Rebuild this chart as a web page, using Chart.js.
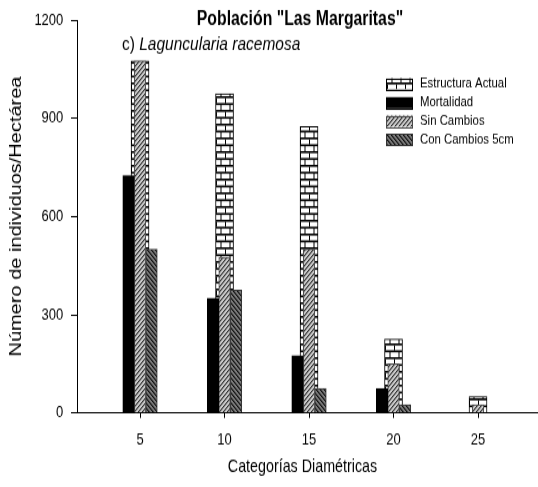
<!DOCTYPE html>
<html>
<head>
<meta charset="utf-8">
<script src="https://cdn.jsdelivr.net/npm/chart.js@4.4.1/dist/chart.umd.min.js"></script>
<style>
  html, body { margin: 0; padding: 0; background: #fff; overflow: hidden; }
  #wrap { width: 538px; height: 487px; overflow: hidden; position: relative; background: #fff; }
  /* the figure is drawn on a shorter canvas and stretched vertically */
  #c { display: block; width: 538px; height: 390px; transform-origin: 0 0; transform: scaleY(1.248718); }
</style>
</head>
<body>
<div id="wrap"><canvas id="c" width="538" height="390"></canvas></div>
<script>
// Diameter classes (cm) and densities (individuals per hectare)
const categories = [5, 10, 15, 20, 25];
const estructuraActual = [1075, 975, 875, 225, 50];
const mortalidad = [725, 350, 175, 75, 0];
const sinCambios = [1075, 475, 500, 150, 25];
const conCambios5cm = [500, 375, 75, 25, 0];
const yTicks = [0, 300, 600, 900, 1200];
const seriesNames = ['Estructura Actual', 'Mortalidad', 'Sin Cambios', 'Con Cambios 5cm'];
const chartTitle = 'Población "Las Margaritas"';
const panelLabel = 'c) ';
const speciesName = 'Laguncularia racemosa';
const xTitle = 'Categorías Diamétricas';
const yTitle = 'Número de individuos/Hectárea';

const FF = "'Liberation Sans', Arial, Helvetica, sans-serif";
const canvas = document.getElementById('c');
const mainCtx = canvas.getContext('2d');

// ---- fill patterns ----
function makeTile(w, h, paint) {
  const t = document.createElement('canvas');
  t.width = w; t.height = h;
  paint(t.getContext('2d'), w, h);
  return t;
}
const brickTile = makeTile(9, 11, (g, w, h) => {
  g.fillStyle = '#fff'; g.fillRect(0, 0, w, h);
  g.fillStyle = '#000';
  g.fillRect(0, 0, w, 1.6);
  g.fillRect(0, 5.5, w, 1.6);
  g.fillRect(0, 1.5, 1, 4.2);
  g.fillRect(4.5, 7, 1, 4.2);
});
function hatchTile(bg, mid, dark, forward) {
  return makeTile(4, 4, (g) => {
    for (let y = 0; y < 4; y++) {
      for (let x = 0; x < 4; x++) {
        const k = forward ? (x + y) % 4 : ((x - y) % 4 + 4) % 4;
        g.fillStyle = k === 3 ? dark : (k === 0 ? mid : bg);
        g.fillRect(x, y, 1, 1);
      }
    }
  });
}
const sinTile = hatchTile('#cacaca', '#8a8a8a', '#333', true);
const conTile = hatchTile('#7a7a7a', '#444', '#111', false);

// pattern anchored on each bar's category centre
function barPattern(tile) {
  return (ctx) => {
    const p = mainCtx.createPattern(tile, 'repeat');
    if (ctx.type === 'data') {
      const x = ctx.chart.scales.x.getPixelForValue(categories[ctx.dataIndex]);
      p.setTransform(new DOMMatrix([1, 0, 0, 1, Math.round(x), 0]));
    }
    return p;
  };
}
const toPoints = (vals) => categories.map((c, i) => ({ x: c, y: vals[i] }));

const legendFills = [
  mainCtx.createPattern(brickTile, 'repeat'),
  '#000',
  mainCtx.createPattern(sinTile, 'repeat'),
  mainCtx.createPattern(conTile, 'repeat')
];

// title, panel label, x-axis title and in-plot legend
const annotations = {
  id: 'annotations',
  afterDraw(chart) {
    const ctx = chart.ctx;
    ctx.save();
    ctx.fillStyle = '#000';
    ctx.textBaseline = 'alphabetic';
    ctx.textAlign = 'center';
    ctx.font = `bold 15.8px ${FF}`;
    ctx.fillText(chartTitle, 300, 20);

    ctx.textBaseline = 'middle';
    ctx.font = `14.3px ${FF}`;
    ctx.fillText(xTitle, 302.5, 374);

    ctx.textBaseline = 'alphabetic';
    ctx.textAlign = 'left';
    ctx.font = `15.5px ${FF}`;
    ctx.fillText(panelLabel, 122, 40);
    const w = ctx.measureText(panelLabel).width;
    ctx.font = `italic 15.5px ${FF}`;
    ctx.fillText(speciesName, 122 + w, 40);

    const rows = [67, 82.3, 97, 111.5];
    chart.data.datasets.forEach((ds, i) => {
      const yc = rows[i];
      ctx.fillStyle = legendFills[i];
      ctx.fillRect(386, yc - 4.5, 27, 9);
      ctx.strokeStyle = ds.borderColor;
      ctx.lineWidth = 1;
      ctx.strokeRect(386.5, Math.round(yc - 4.5) + 0.5, 26, 9);
      ctx.fillStyle = '#000';
      ctx.font = `11.4px ${FF}`;
      ctx.textBaseline = 'middle';
      ctx.fillText(ds.label, 420, yc);
    });
    ctx.restore();
  }
};

new Chart(mainCtx, {
  type: 'bar',
  data: {
    datasets: [
      {
        label: seriesNames[0], data: toPoints(estructuraActual),
        grouped: false, barThickness: 18, order: 1,
        backgroundColor: barPattern(brickTile), borderColor: '#000', borderWidth: 1
      },
      {
        label: seriesNames[1], data: toPoints(mortalidad),
        barThickness: 11.5, order: 0,
        backgroundColor: '#000', borderColor: '#000', borderWidth: 1
      },
      {
        label: seriesNames[2], data: toPoints(sinCambios),
        barThickness: 11.5, order: 0,
        backgroundColor: barPattern(sinTile), borderColor: '#4a4a4a', borderWidth: 1
      },
      {
        label: seriesNames[3], data: toPoints(conCambios5cm),
        barThickness: 11.5, order: 0,
        backgroundColor: barPattern(conTile), borderColor: '#333', borderWidth: 1
      }
    ]
  },
  options: {
    responsive: false,
    devicePixelRatio: 1,
    animation: false,
    layout: { padding: { top: 16, right: 1, left: 0, bottom: 0 } },
    plugins: {
      legend: { display: false },
      tooltip: { enabled: false },
      title: { display: false }
    },
    scales: {
      x: {
        type: 'linear', min: 1.27, max: 28.49, offset: false,
        afterBuildTicks: (s) => { s.ticks = categories.map(v => ({ value: v })); },
        afterFit: (s) => { s.height = 59.3; },
        grid: { display: true, drawOnChartArea: false, drawTicks: true, tickLength: 4, color: '#000', offset: false },
        border: { display: true, color: '#000', width: 1 },
        ticks: { font: { family: FF, size: 13 }, color: '#000', padding: 10, maxRotation: 0, autoSkip: false, callback: (v) => String(v) },
        title: { display: false }
      },
      y: {
        type: 'linear', min: 0, max: 1200,
        afterBuildTicks: (s) => { s.ticks = yTicks.map(v => ({ value: v })); },
        afterFit: (s) => { s.width = 77; },
        grid: { display: true, drawOnChartArea: false, drawTicks: true, tickLength: 6, color: '#000' },
        border: { display: true, color: '#000', width: 1 },
        ticks: { font: { family: FF, size: 13 }, color: '#000', padding: 7.7, callback: (v) => String(v) },
        title: { display: true, text: yTitle, font: { family: FF, size: 16 }, color: '#000', padding: { top: 7.4, bottom: 0 } }
      }
    }
  },
  plugins: [annotations]
});
</script>
</body>
</html>
